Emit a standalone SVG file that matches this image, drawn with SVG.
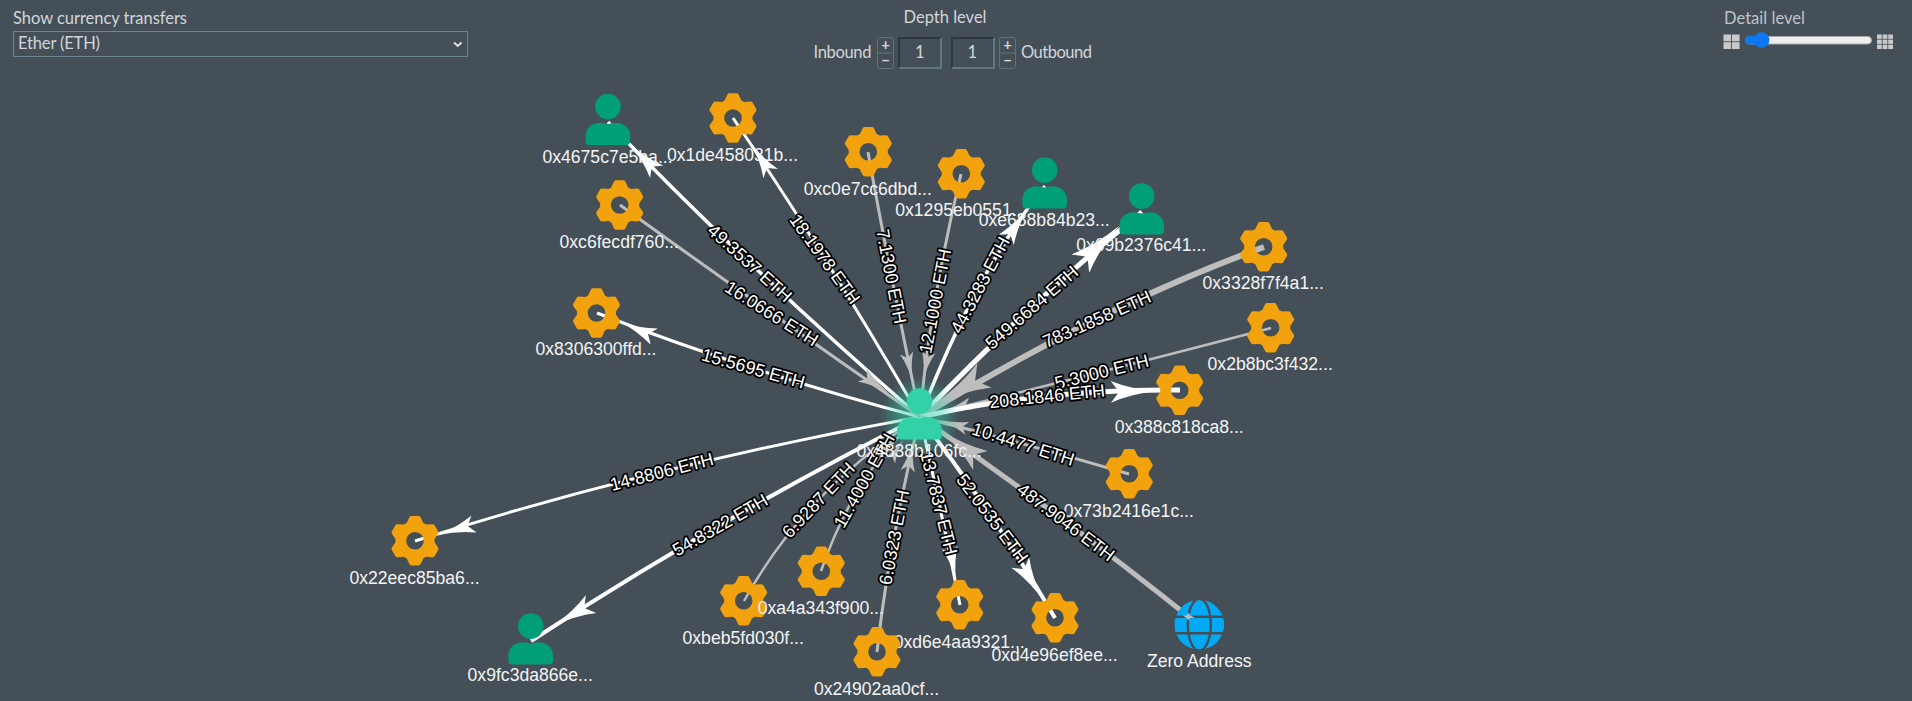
<svg xmlns="http://www.w3.org/2000/svg" width="1912" height="701" viewBox="0 0 1912 701">
<style>
.ui{font-family:"Lato","Open Sans",sans-serif;font-size:16.5px;fill:#d3d6d9}
.nl{font-family:"Liberation Sans",Arial,sans-serif;font-size:17.6px;fill:#f4f4f4;text-anchor:middle}
.el{font-family:"Liberation Sans",Arial,sans-serif;font-size:18px;fill:#fff;stroke:#000;stroke-width:3.6px;stroke-linejoin:round;paint-order:stroke;text-anchor:middle}
.e{fill:none;stroke-linecap:butt}
.w{stroke:#fff}
.g{stroke:#bdbdbd}
.aw{fill:#fff}
.ag{fill:#bdbdbd}
.btn{fill:none;stroke:#60727e;stroke-width:1}
.pm{font-family:"Lato",sans-serif;font-size:15px;font-weight:700;fill:#d3d6d9;text-anchor:middle}
.ic{fill:#c9c9c9}
.gear{fill:#f1a20c}
.ppl{fill:#009f78}
</style>
<defs>
<path id="ah" d="M0 0Q-6 -.5 -11 -2.6L-9 0L-11 2.6Q-6 .5 0 0Z"/>
<g id="gearS" class="gear">
<circle r="14.2" fill="none" stroke="#f1a20c" stroke-width="10.8"/>
<g id="tooth3">
<path id="tooth" d="M-8.5 -17.5L-5.6 -23.4Q-5 -24.7 -3.6 -24.7L3.6 -24.7Q5 -24.7 5.6 -23.4L8.5 -17.5Z"/>
<use href="#tooth" transform="rotate(60)"/>
<use href="#tooth" transform="rotate(120)"/>
</g>
<use href="#tooth3" transform="rotate(180)"/>
</g>
<path id="body" d="M-22.3 19V14C-22.3 6 -15.5 .8 -8 .8C-4 .8 -2.5 2 0 2C2.5 2 4 .8 8 .8C15.5 .8 22.3 6 22.3 14V19Q22.3 23 18.3 23H-18.3Q-22.3 23 -22.3 19Z"/>
<mask id="gm" maskUnits="userSpaceOnUse" x="-26" y="-26" width="52" height="52">
<circle r="25" fill="#fff"/>
<g fill="none" stroke="#000" stroke-width="2.4">
<ellipse rx="11.5" ry="26"/>
<path d="M-26 -8H26M-26 8.5H26"/>
</g>
</mask>
<radialGradient id="glow">
<stop offset="0" stop-color="#34d1a8" stop-opacity=".6"/>
<stop offset=".5" stop-color="#34d1a8" stop-opacity=".45"/>
<stop offset="1" stop-color="#34d1a8" stop-opacity="0"/>
</radialGradient>
</defs>
<rect id="background" width="1912" height="701" fill="#444f58"/>

<g id="controls">
<text class="ui" x="13" y="24" textLength="174">Show currency transfers</text>
<rect x="13.5" y="31.5" width="454" height="25" fill="none" stroke="#6d8590"/>
<text class="ui" x="18" y="49" textLength="82">Ether (ETH)</text>
<path d="M454 42.5L457.8 46L461.6 42.5" fill="none" stroke="#dfe1e3" stroke-width="2"/>
<text class="ui" x="903.5" y="23" textLength="83">Depth level</text>
<text class="ui" x="813.5" y="58" textLength="58">Inbound</text>
<text class="ui" x="1021" y="58" textLength="71">Outbound</text>
<rect class="btn" x="877.5" y="37.5" width="16" height="31" rx="2"/>
<path class="btn" d="M877.5 53H893.5"/>
<text class="pm" x="885.5" y="50">+</text>
<text class="pm" x="885.5" y="66">−</text>
<rect class="btn" x="999.5" y="37.5" width="16" height="31" rx="2"/>
<path class="btn" d="M999.5 53H1015.5"/>
<text class="pm" x="1007.5" y="50">+</text>
<text class="pm" x="1007.5" y="66">−</text>
<path d="M899 68V38H941" fill="none" stroke="#2f373e" stroke-width="2"/>
<path d="M899 68H941V38" fill="none" stroke="#627583" stroke-width="2"/>
<path d="M952 68V38H994" fill="none" stroke="#2f373e" stroke-width="2"/>
<path d="M952 68H994V38" fill="none" stroke="#627583" stroke-width="2"/>
<text class="ui" x="919.7" y="58" text-anchor="middle">1</text>
<text class="ui" x="972.3" y="58" text-anchor="middle">1</text>
<text class="ui" x="1724" y="23.5" style="fill:#bfc4c8" textLength="81">Detail level</text>
<rect class="ic" x="1723.5" y="34.5" width="7.6" height="6.8"/>
<rect class="ic" x="1732" y="34.5" width="7.6" height="6.8"/>
<rect class="ic" x="1723.5" y="42.2" width="7.6" height="6.8"/>
<rect class="ic" x="1732" y="42.2" width="7.6" height="6.8"/>
<g class="ic">
<rect x="1877" y="34.5" width="4.8" height="4.3"/><rect x="1882.6" y="34.5" width="4.8" height="4.3"/><rect x="1888.2" y="34.5" width="4.8" height="4.3"/>
<rect x="1877" y="39.6" width="4.8" height="4.3"/><rect x="1882.6" y="39.6" width="4.8" height="4.3"/><rect x="1888.2" y="39.6" width="4.8" height="4.3"/>
<rect x="1877" y="44.7" width="4.8" height="4.3"/><rect x="1882.6" y="44.7" width="4.8" height="4.3"/><rect x="1888.2" y="44.7" width="4.8" height="4.3"/>
</g>
<rect x="1745.5" y="36.5" width="126" height="7.5" rx="3.7" fill="#efefef" stroke="#a9a9a9"/>
<rect x="1745" y="36" width="17" height="8.5" rx="4" fill="#0b78f2"/>
<circle cx="1761.7" cy="40" r="7.7" fill="#0b78f2"/>
</g>

<g id="connectors">
<path class="e w" stroke-width="3.5" d="M920 417Q736 256.5 608 122"/><use href="#ah" class="aw" transform="translate(630 144) rotate(-133.8) scale(3.5)"/>
<path class="e w" stroke-width="3" d="M920 417Q823.5 250.5 733 118"/><use href="#ah" class="aw" transform="translate(751 143) rotate(-122.7) scale(3.3)"/>
<path class="e g" stroke-width="3" d="M868 152Q889 268.5 920 417"/><use href="#ah" class="ag" transform="translate(912.5 381) rotate(78) scale(2.6)"/>
<path class="e g" stroke-width="3" d="M961 174Q929.5 306.5 920 417"/><use href="#ah" class="ag" transform="translate(923 380) rotate(101.5) scale(2.6)"/>
<path class="e w" stroke-width="3.5" d="M920 417Q977.5 268.5 1045 186"/><use href="#ah" class="aw" transform="translate(1028 208) rotate(-55.6) scale(3.5)"/>
<path class="e w" stroke-width="5" d="M920 417Q1032.4 300 1142 212"/><use href="#ah" class="aw" transform="translate(1119 226) rotate(-44.2) scale(4.9)"/>
<path class="e g" stroke-width="6" d="M1264 247Q1101.4 306 920 417"/><use href="#ah" class="ag" transform="translate(933 405) rotate(150) scale(5.4)"/>
<path class="e g" stroke-width="2.5" d="M1271 328Q1107.9 370.9 920 417"/><use href="#ah" class="ag" transform="translate(945 410) rotate(166) scale(2.4)"/>
<path class="e w" stroke-width="5" d="M920 417Q1044 388.5 1180 390"/><use href="#ah" class="aw" transform="translate(1157 391) rotate(-1) scale(4.2)"/>
<path class="e g" stroke-width="3" d="M1129 474Q1022 442.5 920 417"/><use href="#ah" class="ag" transform="translate(940 420) rotate(-163) scale(2.6)"/>
<path class="e g" stroke-width="5" d="M1199 625Q1072.5 523 920 417"/><use href="#ah" class="ag" transform="translate(940 430) rotate(-143) scale(4.6)"/>
<path class="e w" stroke-width="4" d="M920 417Q997.5 519 1055 618"/><use href="#ah" class="aw" transform="translate(1043 600) rotate(58.8) scale(4)"/>
<path class="e w" stroke-width="3" d="M920 417Q938 495 960 605"/><use href="#ah" class="aw" transform="translate(956 580) rotate(79) scale(3)"/>
<path class="e g" stroke-width="3" d="M877 652Q889.5 540 920 417"/><use href="#ah" class="ag" transform="translate(913 441) rotate(-80) scale(2.8)"/>
<path class="e g" stroke-width="2.5" d="M821 571Q857.5 467 920 417"/><use href="#ah" class="ag" transform="translate(903 440) rotate(-58) scale(2.2)"/>
<path class="e g" stroke-width="2.5" d="M744 601Q804.6 491 920 417"/><use href="#ah" class="ag" transform="translate(898 436) rotate(-40) scale(2.2)"/>
<path class="e w" stroke-width="4" d="M920 417Q714.5 521 531 641"/><use href="#ah" class="aw" transform="translate(553 626) rotate(150) scale(4)"/>
<path class="e w" stroke-width="3" d="M920 417Q656 464.4 415 541"/><use href="#ah" class="aw" transform="translate(438.3 535) rotate(163) scale(3.4)"/>
<path class="e w" stroke-width="3" d="M920 417Q748 371.6 597 313"/><use href="#ah" class="aw" transform="translate(620 321.7) rotate(-156.4) scale(3.4)"/>
<path class="e g" stroke-width="3" d="M620 205Q773.4 315.6 920 417"/><use href="#ah" class="ag" transform="translate(889.5 393.5) rotate(34) scale(3)"/>
</g>
<circle id="glow-halo" cx="920" cy="417" r="40" fill="url(#glow)"/>

<g id="n-4675"><g transform="translate(608 122)" class="ppl"><circle cy="-15.4" r="12.8"/><use href="#body"/></g><text class="nl" x="607.5" y="163">0x4675c7e5ba...</text></g>
<g id="n-1de"><use href="#gearS" transform="translate(733 118)"/><text class="nl" x="732.5" y="161">0x1de458031b...</text></g>
<g id="n-c0e"><use href="#gearS" transform="translate(868.3 151.7)"/><text class="nl" x="867.8" y="194.5">0xc0e7cc6dbd...</text></g>
<g id="n-129"><use href="#gearS" transform="translate(961.3 173.7)"/><text class="nl" x="960.8" y="216">0x1295eb0551...</text></g>
<g id="n-e68"><g transform="translate(1044.7 185.5)" class="ppl"><circle cy="-15.4" r="12.8"/><use href="#body"/></g><text class="nl" x="1044.2" y="226">0xe688b84b23...</text></g>
<g id="n-69b"><g transform="translate(1141.7 211.5)" class="ppl"><circle cy="-15.4" r="12.8"/><use href="#body"/></g><text class="nl" x="1141.2" y="251">0x69b2376c41...</text></g>
<g id="n-332"><use href="#gearS" transform="translate(1263.7 246.7)"/><text class="nl" x="1263.2" y="289">0x3328f7f4a1...</text></g>
<g id="n-2b8"><use href="#gearS" transform="translate(1270.7 327.7)"/><text class="nl" x="1270.2" y="370">0x2b8bc3f432...</text></g>
<g id="n-388"><use href="#gearS" transform="translate(1179.7 390.3)"/><text class="nl" x="1179.2" y="433">0x388c818ca8...</text></g>
<g id="n-73b"><use href="#gearS" transform="translate(1129.3 473.7)"/><text class="nl" x="1128.8" y="516.5">0x73b2416e1c...</text></g>
<g id="n-zero"><g transform="translate(1199.3 624.7)" mask="url(#gm)"><circle r="25" fill="#03a9f4"/></g><text class="nl" x="1199.3" y="667.3">Zero Address</text></g>
<g id="n-d4e"><use href="#gearS" transform="translate(1055 617.7)"/><text class="nl" x="1054.5" y="660.5">0xd4e96ef8ee...</text></g>
<g id="n-d6e"><use href="#gearS" transform="translate(959.7 604.7)"/><text class="nl" x="959.2" y="647.5">0xd6e4aa9321...</text></g>
<g id="n-249"><use href="#gearS" transform="translate(877 651.7)"/><text class="nl" x="876.5" y="694.5">0x24902aa0cf...</text></g>
<g id="n-beb"><use href="#gearS" transform="translate(743.7 600.7)"/><text class="nl" x="743.2" y="643.5">0xbeb5fd030f...</text></g>
<g id="n-a4a"><use href="#gearS" transform="translate(821.3 571.3)"/><text class="nl" x="820.8" y="614">0xa4a343f900...</text></g>
<g id="n-9fc"><g transform="translate(530.7 641.5)" class="ppl"><circle cy="-15.4" r="12.8"/><use href="#body"/></g><text class="nl" x="530.2" y="681">0x9fc3da866e...</text></g>
<g id="n-22e"><use href="#gearS" transform="translate(415 540.7)"/><text class="nl" x="414.5" y="584">0x22eec85ba6...</text></g>
<g id="n-830"><use href="#gearS" transform="translate(596.5 313)"/><text class="nl" x="596" y="355">0x8306300ffd...</text></g>
<g id="n-c6f"><use href="#gearS" transform="translate(619.7 205)"/><text class="nl" x="619.2" y="248">0xc6fecdf760...</text></g>

<g id="edge-labels">
<text class="el" dy=".35em" transform="translate(750 263) rotate(42)">49.3537 ETH</text>
<text class="el" dy=".35em" transform="translate(825 259) rotate(54)">18.1978 ETH</text>
<text class="el" dy=".35em" transform="translate(891.5 276.5) rotate(79)">7.1300 ETH</text>
<text class="el" dy=".35em" transform="translate(935 301) rotate(-79)">12.1000 ETH</text>
<text class="el" dy=".35em" transform="translate(980 285) rotate(-62)">44.3283 ETH</text>
<text class="el" dy=".35em" transform="translate(1031.7 307.3) rotate(-41)">549.6684 ETH</text>
<text class="el" dy=".35em" transform="translate(1096.7 319) rotate(-24)">783.1858 ETH</text>
<text class="el" dy=".35em" transform="translate(1101.7 371.7) rotate(-14)">5.3000 ETH</text>
<text class="el" dy=".35em" transform="translate(1047 396) rotate(-5.8)">208.1846 ETH</text>
<text class="el" dy=".35em" transform="translate(1023.3 444) rotate(17.6)">10.4477 ETH</text>
<text class="el" dy=".35em" transform="translate(1066 522) rotate(37)">487.9046 ETH</text>
<text class="el" dy=".35em" transform="translate(992.5 518.3) rotate(53)">52.0535 ETH</text>
<text class="el" dy=".35em" transform="translate(939 503) rotate(76)">13.7837 ETH</text>
<text class="el" dy=".35em" transform="translate(894 537.3) rotate(-79)">6.0323 ETH</text>
<text class="el" dy=".35em" transform="translate(864 480.5) rotate(-60.5)">11.4000 ETH</text>
<text class="el" dy=".35em" transform="translate(818.3 500) rotate(-46.4)">6.9287 ETH</text>
<text class="el" dy=".35em" transform="translate(720 525) rotate(-29.8)">54.8322 ETH</text>
<text class="el" dy=".35em" transform="translate(661.7 471.7) rotate(-14.5)">14.8806 ETH</text>
<text class="el" dy=".35em" transform="translate(753.3 368.3) rotate(15.6)">15.5695 ETH</text>
<text class="el" dy=".35em" transform="translate(771.7 313.3) rotate(32.2)">16.0666 ETH</text>
</g>

<g id="n-center"><g transform="translate(919.5 416.5)" fill="#33d1a8"><circle cy="-15.4" r="12.8"/><use href="#body"/></g><text class="nl" x="919" y="457">0x4838b106fc...</text></g>
</svg>
